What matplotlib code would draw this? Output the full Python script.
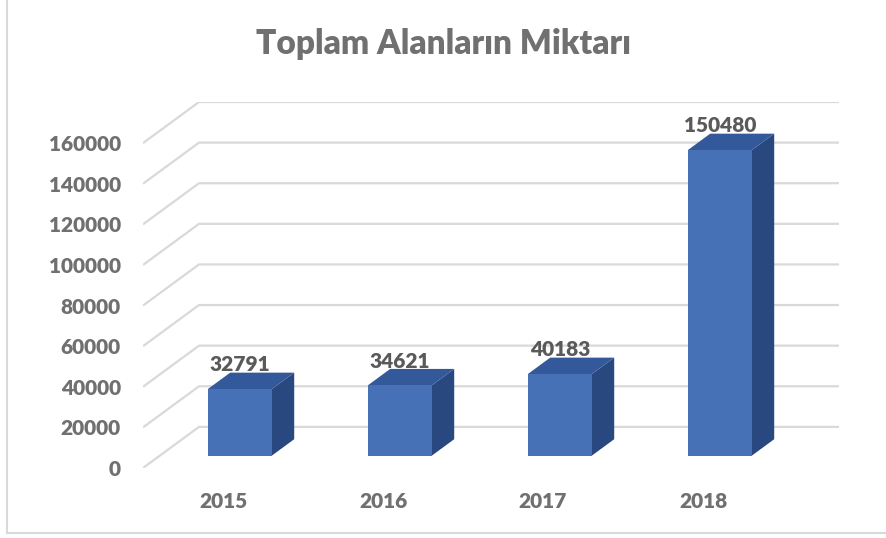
"""Toplam Alanlarin Miktari - Excel style 3D column chart."""

import matplotlib.pyplot as plt
from matplotlib.patches import Polygon

years = ['2015', '2016', '2017', '2018']
values = [32791, 34621, 40183, 150480]
yticks = [0, 20000, 40000, 60000, 80000, 100000, 120000, 140000, 160000]

# oblique "depth" projection: full depth moves a point right and up
DX = 0.35       # category units
DY = 20250      # value units
D_FRONT, D_BACK = 0.3, 0.7
HALF_W = 0.2

FRONT = '#4671b6'
SIDE = '#294880'
TOP = '#33599b'
GRID = '#d9d9d9'
TXT = '#707070'
WEIGHT = 'heavy'


def proj(x, v, d):
    return (x + d * DX, v + d * DY)


fig = plt.figure(figsize=(8.87, 5.38), dpi=100)
ax = fig.add_axes([143 / 887, (538 - 468) / 538, 696 / 887, 366 / 538])
ax.set_xlim(-0.5, 3.5 + DX)
ax.set_ylim(0, yticks[-1] + DY)
for s in ax.spines.values():
    s.set_visible(False)

# floor + back wall gridlines
for v in yticks:
    p0 = proj(-0.5, v, 0)
    p1 = proj(-0.5, v, 1)
    p2 = proj(3.5, v, 1)
    ax.plot([p0[0], p1[0], p2[0]], [p0[1], p1[1], p2[1]], color=GRID, lw=1.6,
            zorder=1, solid_capstyle='butt')

# bars
for i, v in enumerate(values):
    xl, xr = i - HALF_W, i + HALF_W
    front = [proj(xl, 0, D_FRONT), proj(xr, 0, D_FRONT), proj(xr, v, D_FRONT), proj(xl, v, D_FRONT)]
    side = [proj(xr, 0, D_FRONT), proj(xr, 0, D_BACK), proj(xr, v, D_BACK), proj(xr, v, D_FRONT)]
    top = [proj(xl, v, D_FRONT), proj(xr, v, D_FRONT), proj(xr, v, D_BACK), proj(xl, v, D_BACK)]
    ax.add_patch(Polygon(side, closed=True, fc=SIDE, ec='none', zorder=3))
    ax.add_patch(Polygon(top, closed=True, fc=TOP, ec='none', zorder=3))
    ax.add_patch(Polygon(front, closed=True, fc=FRONT, ec='none', zorder=4))
    lx, ly = proj(i, v, D_BACK)
    ax.annotate(str(v), (proj(i, v, D_FRONT)[0], ly), xytext=(0, 1), textcoords='offset points',
                ha='center', va='baseline', fontsize=15, fontweight=WEIGHT,
                family='Lato', color='#5a5a5a', zorder=5)

ax.set_yticks(yticks)
ax.set_yticklabels([str(t) for t in yticks])
ax.set_xticks(range(len(years)))
ax.set_xticklabels(years)
ax.tick_params(axis='both', length=0, labelsize=15, labelcolor=TXT)
ax.tick_params(axis='y', pad=16)
ax.tick_params(axis='x', pad=17)
for lab in ax.get_xticklabels() + ax.get_yticklabels():
    lab.set_fontfamily('Lato')
    lab.set_fontweight(WEIGHT)

fig.text(0.5, 1 - 44 / 538, 'Toplam Alanların Miktarı', ha='center', va='center',
         fontsize=24, fontweight=WEIGHT, family='Lato', color=TXT)

# chart area border (left and bottom visible)
fig.add_artist(plt.Line2D([7.5 / 887, 7.5 / 887], [1, 1 - 533 / 538],
                          transform=fig.transFigure, color='#d9d9d9', lw=1.5))
fig.add_artist(plt.Line2D([7.5 / 887, 1], [1 - 533 / 538, 1 - 533 / 538],
                          transform=fig.transFigure, color='#d9d9d9', lw=1.5))

fig.savefig('out.png', dpi=100)
